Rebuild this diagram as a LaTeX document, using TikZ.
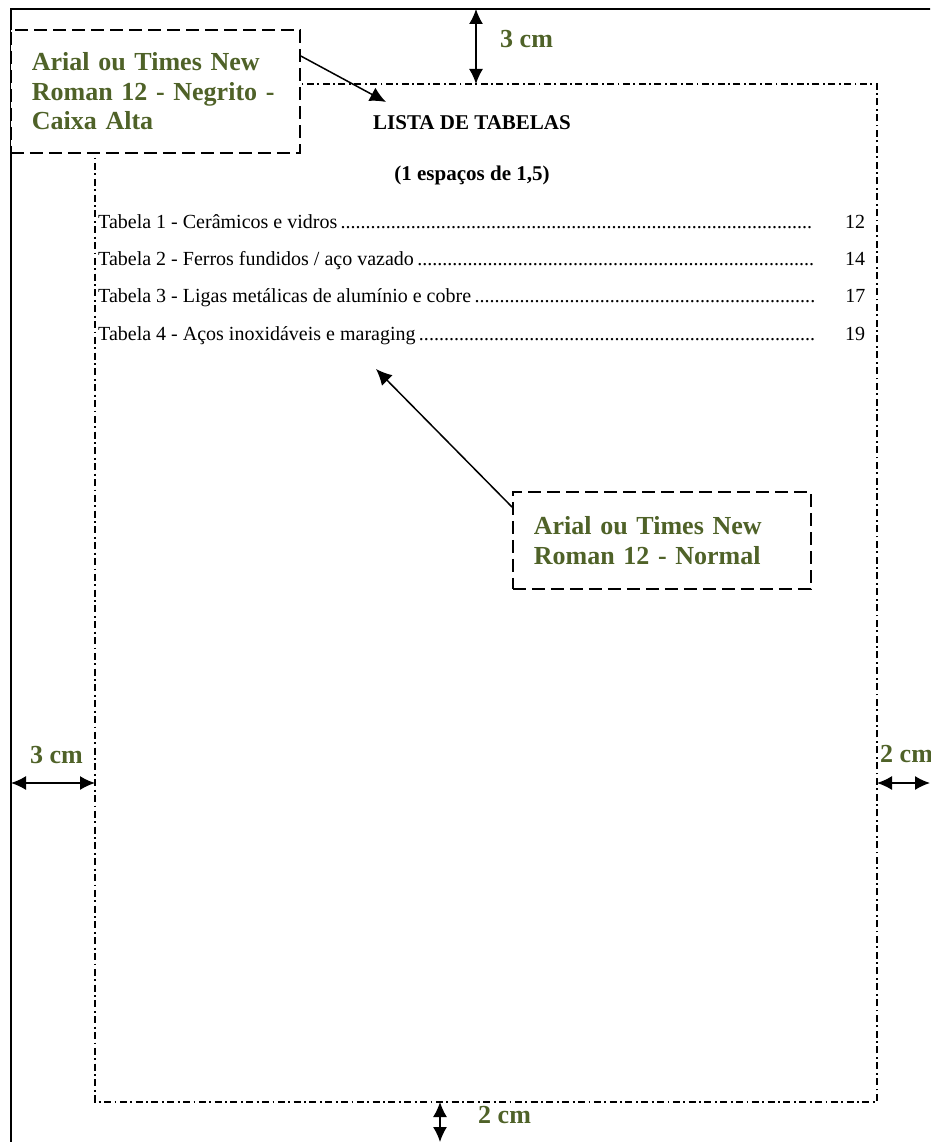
\documentclass[tikz,border=0pt]{standalone}
\usepackage{fontspec}
\setmainfont{Liberation Serif}
\usetikzlibrary{arrows.meta}
\definecolor{labelgreen}{RGB}{79,98,40}
\tikzset{
  dashdot/.style={line width=1.3pt, dash pattern=on 7pt off 3.5pt on 1.8pt off 3.5pt},
  notebox/.style={draw, line width=1.8pt, dash pattern=on 13pt off 6pt, fill=white,
    anchor=north west, inner xsep=21pt, inner ysep=0pt, align=left,
    font=\fontsize{26}{29.5}\selectfont\bfseries, text=labelgreen},
  ptr/.style={line width=1.5pt, -{Latex[length=16pt,width=15pt]}},
  dimarrow/.style={line width=1.5pt, {Latex[length=15pt,width=14pt]}-{Latex[length=15pt,width=14pt]}},
  dimlabel/.style={font=\fontsize{26}{26}\selectfont\bfseries, text=labelgreen, anchor=base west, inner sep=0pt},
  rowtext/.style={font=\fontsize{20}{20}\selectfont, anchor=base west, inner sep=0pt},
  titletext/.style={font=\fontsize{21}{21}\selectfont\bfseries, anchor=base, inner sep=0pt},
}
\newcommand{\myleader}{\xleaders\hbox to 5pt{\hss.\hss}\hfill}
\begin{document}
\begin{tikzpicture}[x=1pt,y=-1pt]
\useasboundingbox (0,0) rectangle (930,1142);
\fill[white] (0,0) rectangle (930,1142);
\clip (0,0) rectangle (930,1142);
% page edge
\draw[line width=1.6pt] (11,1200) -- (11,9) -- (1000,9);
% text area
\draw[dashdot] (95,84) rectangle (877,1102);
% title
\node[titletext] (title) at (472,130) {LISTA DE TABELAS};
\node[titletext] (sub) at (472,181) {(1 espaços de 1,5)};
% rows
\node[rowtext] (r1) at (98,228) {\makebox[767pt][l]{Tabela 1 - Cerâmicos e vidros\,\myleader\hspace{33pt}12}};
\node[rowtext] (r2) at (98,265) {\makebox[767pt][l]{Tabela 2 - Ferros fundidos / aço vazado\,\myleader\hspace{31pt}14}};
\node[rowtext] (r3) at (98,302) {\makebox[767pt][l]{Tabela 3 - Ligas metálicas de alumínio e cobre\,\myleader\hspace{30pt}17}};
\node[rowtext] (r4) at (98,340) {\makebox[767pt][l]{Tabela 4 - Aços inoxidáveis e maraging\,\myleader\hspace{30pt}19}};
% note boxes
\node[notebox, text width=247pt, minimum height=123pt] (b1) at (10,29)
  {Arial ou Times New\\Roman 12 - Negrito -\\Caixa Alta};
\node[notebox, text width=256pt, minimum height=97pt] (b2) at (512,491)
  {Arial ou Times New\\Roman 12 - Normal};
\coordinate (t1) at (386,102);
\coordinate (t2) at (376,369);
\draw[ptr] ([yshift=-27pt]b1.north east) -- (t1);
\draw[ptr] ([yshift=-16pt]b2.north west) -- (t2);
% dimension arrows
\coordinate (topA) at (476,9);
\coordinate (topB) at (476,84);
\draw[dimarrow] (topA) -- (topB);
\node[dimlabel] (topL) at (500,48) {3 cm};
\coordinate (leftA) at (11,783);
\coordinate (leftB) at (95,783);
\draw[dimarrow] (leftA) -- (leftB);
\node[dimlabel] (leftL) at (30,763) {3 cm};
\coordinate (rightA) at (877,783);
\coordinate (rightB) at (930,783);
\draw[dimarrow] (rightA) -- (rightB);
\node[dimlabel] (rightL) at (880,762) {2 cm};
\coordinate (botA) at (440,1102);
\coordinate (botB) at (440,1142);
\draw[dimarrow] (botA) -- (botB);
\node[dimlabel] (botL) at (478,1123) {2 cm};
\end{tikzpicture}
\end{document}
